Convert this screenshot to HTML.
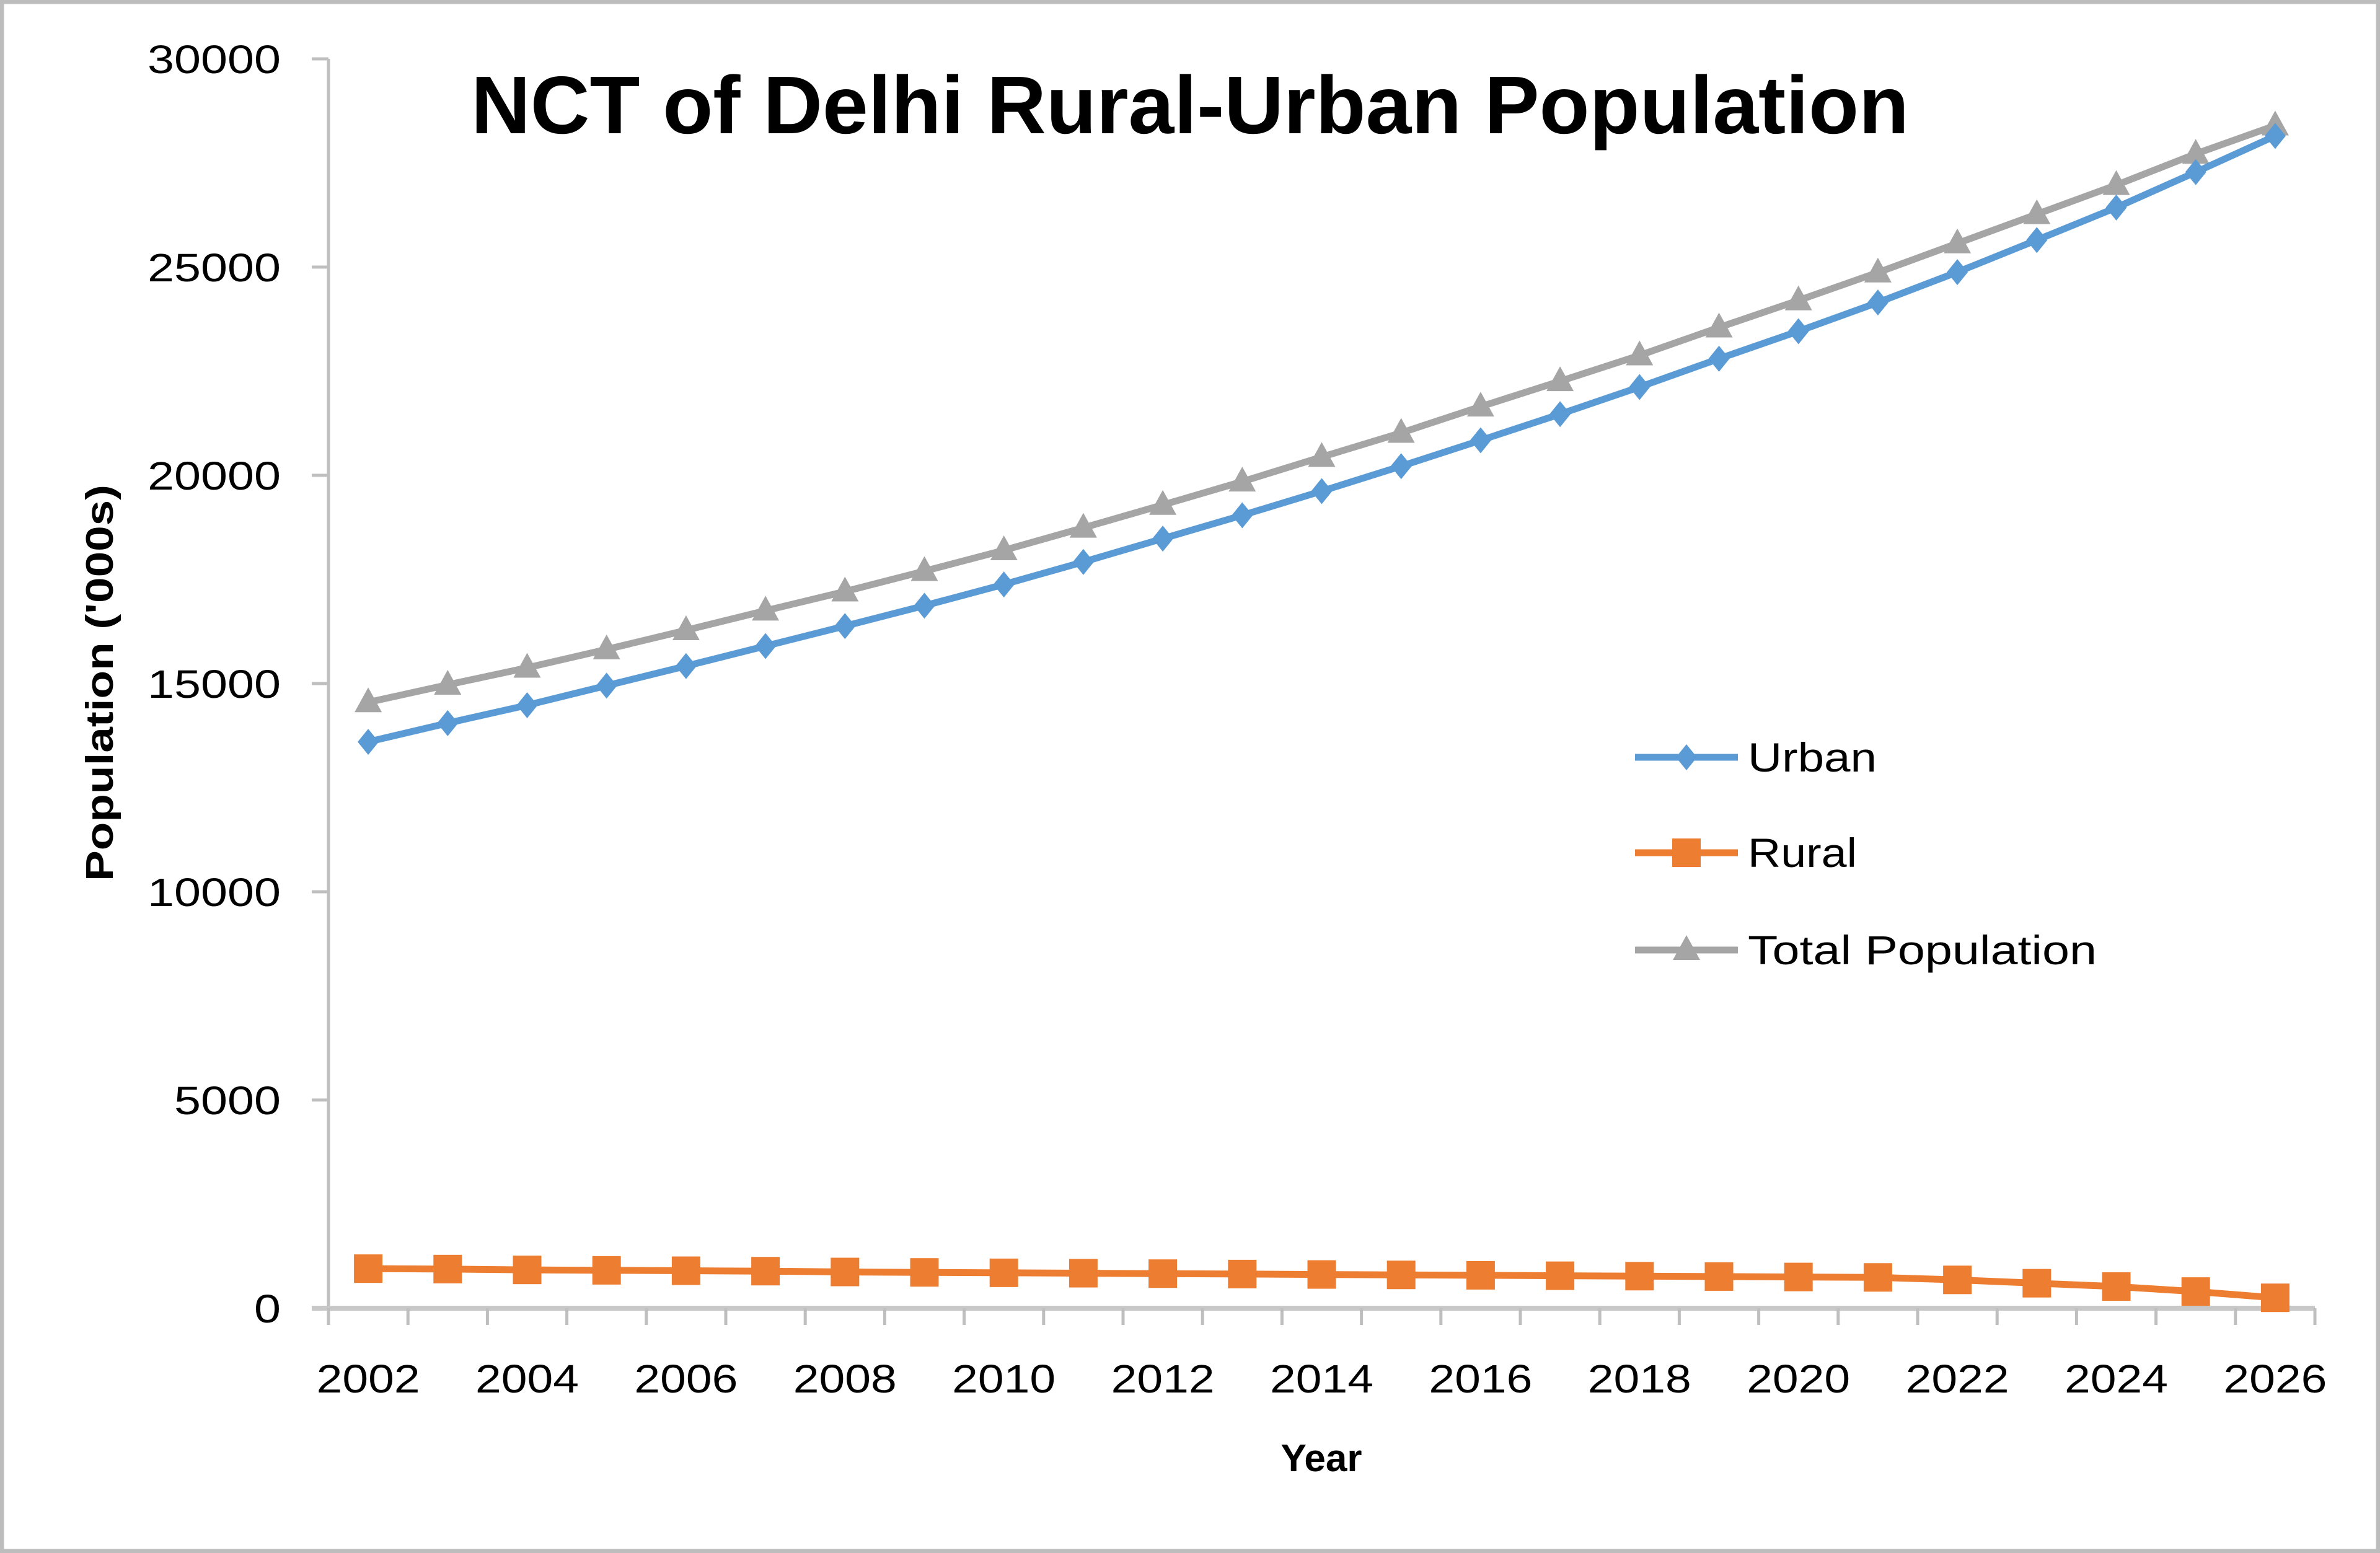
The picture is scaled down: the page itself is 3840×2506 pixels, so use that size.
<!DOCTYPE html>
<html><head><meta charset="utf-8"><style>
html,body{margin:0;padding:0;background:#fff}
svg{display:block}
text{font-family:"Liberation Sans",sans-serif}
</style></head><body>
<svg id="chart" width="3840" height="2506" viewBox="0 0 3840 2506" xmlns="http://www.w3.org/2000/svg">
<rect x="3" y="3" width="3834" height="2500" fill="#fff" stroke="#bdbdbd" stroke-width="7"/>
<text x="1920" y="215" text-anchor="middle" font-size="132" font-weight="bold" textLength="2320" lengthAdjust="spacingAndGlyphs" fill="#000">NCT of Delhi Rural-Urban Population</text>
<text transform="translate(182,1102) rotate(-90)" text-anchor="middle" font-size="62" font-weight="bold" textLength="640" lengthAdjust="spacingAndGlyphs">Population ('000s)</text>
<text x="2132" y="2374" text-anchor="middle" font-size="62" font-weight="bold">Year</text>
<g id="axes"></g>
<g id="series"></g>
<g id="legend"></g>
</svg>
<script>
const years = [2002,2003,2004,2005,2006,2007,2008,2009,2010,2011,2012,2013,2014,2015,2016,2017,2018,2019,2020,2021,2022,2023,2024,2025,2026];
const urban = [13600,14050,14480,14950,15420,15900,16380,16870,17380,17920,18480,19040,19620,20220,20840,21470,22120,22800,23460,24150,24880,25650,26430,27280,28150];
const rural = [950,940,920,910,900,890,870,860,850,840,830,820,810,800,790,780,770,760,750,740,680,600,520,400,250];
const total = [14550,14970,15380,15820,16280,16750,17210,17700,18200,18740,19290,19850,20440,21020,21650,22260,22880,23550,24200,24870,25570,26270,26970,27720,28400];
const yTicks = [0,5000,10000,15000,20000,25000,30000];

const NS="http://www.w3.org/2000/svg";
const X0=530, X1=3735, Y0=2111, Y1=95, YMAX=30000;
const step=(X1-X0)/years.length;
function xs(i){return X0+step*(i+0.5);}
function ys(v){return Y0-(v/YMAX)*(Y0-Y1);}
function mk(tag,attrs,parent){const e=document.createElementNS(NS,tag);for(const k in attrs)e.setAttribute(k,attrs[k]);parent.appendChild(e);return e;}
const axes=document.getElementById('axes'), ser=document.getElementById('series'), leg=document.getElementById('legend');

let l=mk('line',{x1:X0,y1:Y1,x2:X0,y2:Y0,stroke:'#bfbfbf','stroke-width':5},axes);


yTicks.forEach(v=>{
  const t=mk('line',{x1:X0-27,y1:ys(v),x2:X0,y2:ys(v),stroke:'#bfbfbf','stroke-width':5},axes);
  
  
  const s=String(v);
  const tx=mk('text',{x:453,y:ys(v)+23,'text-anchor':'end','font-size':64,fill:'#000',textLength:43*s.length,lengthAdjust:'spacingAndGlyphs'},axes);
  tx.textContent=v;
  
  
});
l=mk('line',{x1:X0-27,y1:Y0,x2:X1,y2:Y0,stroke:'#c8c8c8','stroke-width':8},axes);


for(let i=0;i<=years.length;i++){
  const t=mk('line',{x1:X0+step*i,y1:Y0,x2:X0+step*i,y2:Y0+27,stroke:'#bfbfbf','stroke-width':5},axes);
  
  
}
years.forEach((y,i)=>{
  if(i%2) return;
  const tx=mk('text',{x:xs(i),y:2247,'text-anchor':'middle','font-size':64,fill:'#000',textLength:167,lengthAdjust:'spacingAndGlyphs'},axes);
  tx.textContent=y;
  
  
});

function marker(type,cx,cy,color,parent){
  let e;
  if(type==='diamond') e=mk('polygon',{points:`${cx},${cy-21} ${cx+17},${cy} ${cx},${cy+21} ${cx-17},${cy}`,fill:color},parent);
  else if(type==='square') e=mk('rect',{x:cx-23,y:cy-23,width:46,height:46,fill:color},parent);
  else e=mk('polygon',{points:`${cx},${cy-24} ${cx+22},${cy+16} ${cx-22},${cy+16}`,fill:color},parent);
  return e;
}
function drawSeries(vals,color,type,name){
  const g=mk('g',{},ser);
  
  
  const p=mk('polyline',{points:vals.map((v,i)=>xs(i)+','+ys(v)).join(' '),fill:'none',stroke:color,'stroke-width':11,'stroke-linejoin':'round'},g);
  
  
  vals.forEach((v,i)=>{
    const m=marker(type,xs(i),ys(v),color,g);
    
    
  });
}
drawSeries(rural,'#ED7D31','square','rural');
drawSeries(total,'#A5A5A5','triangle','total');
drawSeries(urban,'#5B9BD5','diamond','urban');

const legendItems=[['Urban','#5B9BD5','diamond',1222,208],['Rural','#ED7D31','square',1376,176],['Total Population','#A5A5A5','triangle',1533,563]];
legendItems.forEach(([label,color,type,y,w])=>{
  const g=mk('g',{},leg);
  
  
  mk('line',{x1:2638,y1:y,x2:2804,y2:y,stroke:color,'stroke-width':11},g);
  marker(type,2721,y,color,g);
  const t=mk('text',{x:2820,y:y+23,'font-size':66,fill:'#000',textLength:w,lengthAdjust:'spacingAndGlyphs'},g);
  t.textContent=label;
});
</script>
</body></html>
